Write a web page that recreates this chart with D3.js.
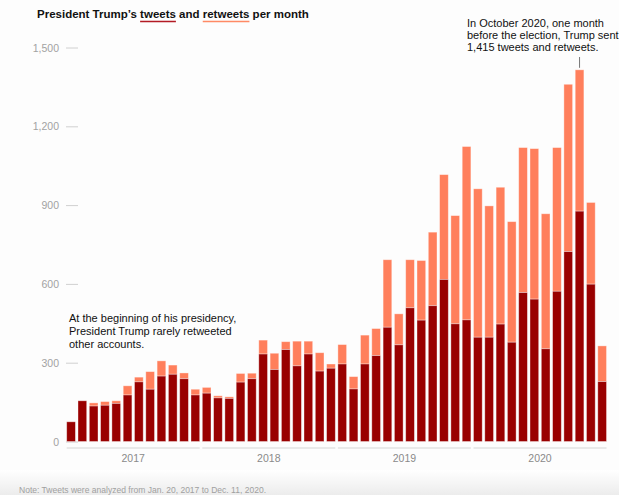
<!DOCTYPE html>
<html>
<head>
<meta charset="utf-8">
<script src="https://cdn.jsdelivr.net/npm/d3@7/dist/d3.min.js"></script>
<style>
  html, body { margin: 0; padding: 0; background: #fff; }
  svg { display: block; }
  text { font-family: "Liberation Sans", Arial, sans-serif; }
</style>
</head>
<body>
<svg id="chart" width="619" height="495"></svg>
<script>
// ---- Data ----
const years = ["2017", "2018", "2019", "2020"];
const months = [];
years.forEach(y => { for (let m = 1; m <= 12; m++) months.push(y + "-" + String(m).padStart(2, "0")); });

const tweets = [
  75, 155, 135, 138, 145, 177, 227, 199, 249, 256, 239, 177,
  184, 166, 164, 226, 239, 333, 274, 350, 288, 333, 268, 279,
  295, 200, 295, 327, 435, 368, 509, 462, 517, 617, 448, 463,
  397, 397, 447, 378, 567, 542, 353, 572, 723, 877, 599, 228
];
const retweets = [
  0, 0, 12, 14, 10, 35, 18, 67, 58, 35, 22, 22,
  22, 8, 6, 33, 21, 53, 62, 30, 94, 49, 70, 16,
  74, 47, 110, 103, 257, 118, 183, 227, 280, 399, 412, 660,
  565, 500, 521, 459, 552, 573, 514, 547, 637, 538, 311, 136
];
const yTicks = [0, 300, 600, 900, 1200, 1500];

const titleParts = [
  { t: "President Trump\u2019s ", c: null },
  { t: "tweets", c: "#b31b24" },
  { t: " and ", c: null },
  { t: "retweets", c: "#ff8a65" },
  { t: " per month", c: null }
];
const noteLeft = ["At the beginning of his presidency,", "President Trump rarely retweeted", "other accounts."];
const noteRight = ["In October 2020, one month", "before the election, Trump sent", "1,415 tweets and retweets."];
const footNote = "Note: Tweets were analyzed from Jan. 20, 2017 to Dec. 11, 2020.";

const TWEET_COLOR = "#990000";
const RT_COLOR = "#ff7f5c";

// ---- Chart ----
const svg = d3.select("#chart");
const W = 619, H = 495;

const defs = svg.append("defs");
const grad = defs.append("linearGradient").attr("id", "bg").attr("x1", 0).attr("y1", 0).attr("x2", 0).attr("y2", 1);
grad.append("stop").attr("offset", "0%").attr("stop-color", "#ffffff");
grad.append("stop").attr("offset", "100%").attr("stop-color", "#ececec");
svg.append("rect").attr("width", W).attr("height", H).attr("fill", "#fdfdfd");
svg.append("rect").attr("y", 470).attr("width", W).attr("height", H - 470).attr("fill", "url(#bg)");

const x = d3.scaleBand().domain(months).range([66.7, 606.5]).paddingInner(0.23).paddingOuter(0);
const y = d3.scaleLinear().domain([0, 1500]).range([441.5, 47.5]);

// y axis: short tick lines + labels
const yAxis = d3.axisLeft(y).tickValues(yTicks).tickFormat(d3.format(",")).tickSize(0).tickPadding(0);
const gy = svg.append("g").attr("transform", "translate(59,0)").call(yAxis);
gy.select(".domain").remove();
gy.selectAll("text").attr("fill", "#a2a2a2").attr("font-size", 10.5)
  .attr("font-family", "'Liberation Sans', Arial, sans-serif").attr("dy", "0.35em");
gy.selectAll(".tick").append("line").attr("x1", 7).attr("x2", 19).attr("stroke", "#d0d0d0").attr("stroke-width", 1);

// bars
const data = months.map((m, i) => ({ m, t: tweets[i], r: retweets[i] }));
const bars = svg.append("g");
bars.selectAll("rect.rt").data(data.filter(d => d.r > 0)).join("rect").attr("class", "rt")
  .attr("x", d => x(d.m)).attr("width", x.bandwidth())
  .attr("y", d => y(d.t + d.r)).attr("height", d => y(d.t) - y(d.t + d.r))
  .attr("fill", RT_COLOR).attr("stroke", "rgba(255,255,255,0.45)").attr("stroke-width", 0.8);
bars.selectAll("rect.tw").data(data).join("rect").attr("class", "tw")
  .attr("x", d => x(d.m)).attr("width", x.bandwidth())
  .attr("y", d => y(d.t)).attr("height", d => y(0) - y(d.t))
  .attr("fill", TWEET_COLOR).attr("stroke", "rgba(255,255,255,0.45)").attr("stroke-width", 0.8);

// year segments + labels
const yearG = svg.append("g");
years.forEach(yr => {
  const first = yr + "-01", last = yr + "-12";
  const x0 = x(first), x1 = x(last) + x.bandwidth();
  yearG.append("line").attr("x1", x0).attr("x2", x1).attr("y1", 448).attr("y2", 448)
    .attr("stroke", "#e2e2e2").attr("stroke-width", 1.5);
  yearG.append("text").attr("x", (x0 + x1) / 2).attr("y", 462).attr("text-anchor", "middle")
    .attr("font-size", 10.5).attr("fill", "#8a8a8a").text(yr);
});

// title
const title = svg.append("text").attr("x", 37).attr("y", 18).attr("font-size", 11.5).attr("font-weight", "bold").attr("fill", "#111");
titleParts.forEach(p => title.append("tspan").text(p.t));
const tNode = title.node();
let idx = 0;
titleParts.forEach(p => {
  if (p.c) {
    const start = tNode.getStartPositionOfChar(idx).x;
    const len = tNode.getSubStringLength(idx, p.t.length);
    svg.append("line").attr("x1", start).attr("x2", start + len).attr("y1", 21.5).attr("y2", 21.5)
      .attr("stroke", p.c).attr("stroke-width", 1.6);
  }
  idx += p.t.length;
});

// annotations
const aL = svg.append("text").attr("x", 69).attr("y", 322).attr("font-size", 11).attr("fill", "#111");
noteLeft.forEach((l, i) => aL.append("tspan").attr("x", 69).attr("dy", i === 0 ? 0 : 13).text(l));
const aR = svg.append("text").attr("x", 467).attr("y", 27).attr("font-size", 11).attr("fill", "#111");
noteRight.forEach((l, i) => aR.append("tspan").attr("x", 467).attr("dy", i === 0 ? 0 : 12).text(l));

const oct = "2020-10";
const cx = x(oct) + x.bandwidth() / 2;
svg.append("line").attr("x1", cx).attr("x2", cx).attr("y1", 57).attr("y2", y(tweets[45] + retweets[45]) - 2)
  .attr("stroke", "#777").attr("stroke-width", 1);

// footnote
svg.append("text").attr("x", 19).attr("y", 493).attr("font-size", 9.5).attr("fill", "#a0a0a0")
  .attr("textLength", 247).attr("lengthAdjust", "spacingAndGlyphs").text(footNote);
</script>
</body>
</html>
